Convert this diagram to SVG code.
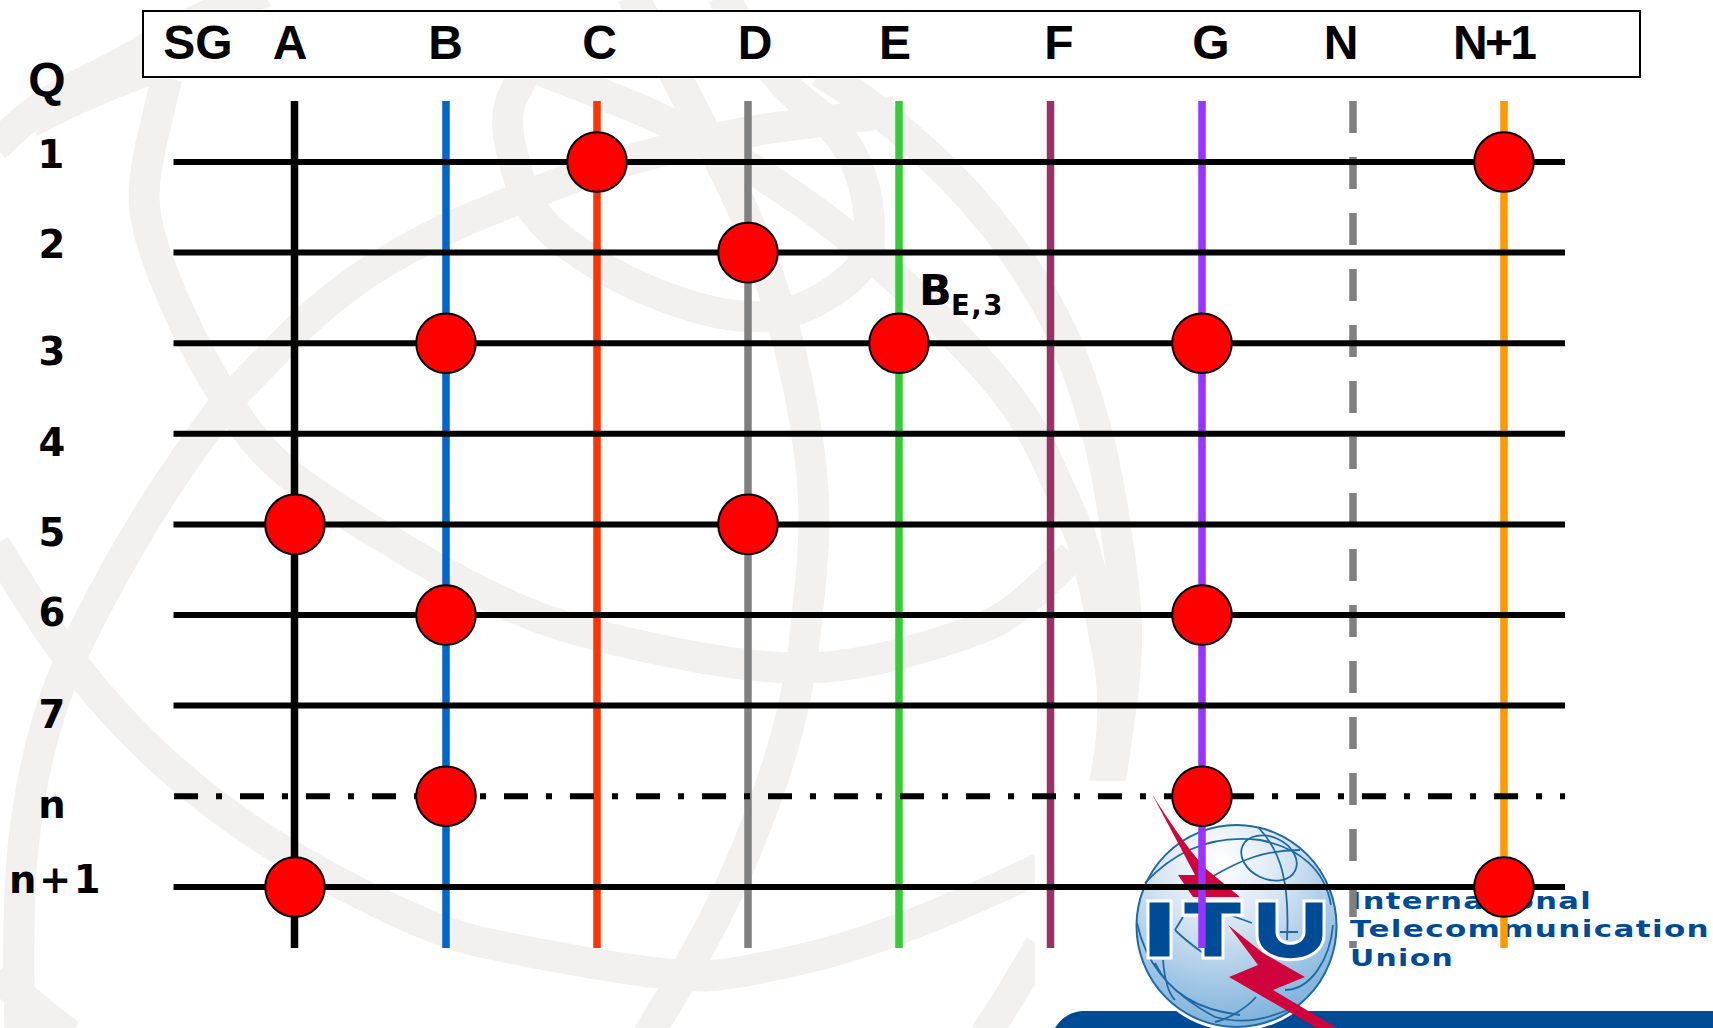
<svg xmlns="http://www.w3.org/2000/svg" width="1713" height="1028" viewBox="0 0 1713 1028">
<style>
.wm{fill:none;stroke:#f2f1ef;stroke-width:31}
.v{fill:none;stroke-width:7.5}
.h{fill:none;stroke:#000;stroke-width:6}
.dot{fill:#f00;stroke:#000;stroke-width:2}
.head{font-family:"Liberation Sans",Arial,sans-serif;font-weight:bold;font-size:48px;fill:#000;text-anchor:middle}
.row{font-family:"DejaVu Sans",Verdana,sans-serif;font-weight:bold;font-size:38.5px;fill:#000;text-anchor:middle}
.mer{fill:none;stroke:#1f6aa5;stroke-width:1.8}
.logo{font-family:"DejaVu Sans",Verdana,sans-serif;font-weight:bold;font-size:23px;letter-spacing:1px;fill:#004b96}
</style>
<defs>
<radialGradient id="globeFill" cx="0.42" cy="0.18" r="0.9">
<stop offset="0" stop-color="#ffffff"/><stop offset="0.35" stop-color="#d8e6f3"/><stop offset="1" stop-color="#6fa9d8"/>
</radialGradient>
</defs>
<rect width="1713" height="1028" fill="#fff"/>
<g id="watermark">
<path class="wm" d="M-5,147 L22,122 Q50,98 90,79 Q130,60 160,40 Q190,20 265,-8"/>
<path class="wm" d="M30,122 Q90,90 170,62"/>
<path class="wm" d="M167,78 L154.500,129 Q142,180 144.500,206.500 Q147,233 163.500,275 Q180,317 198.500,352 Q217,387 242,423.500 Q267,460 308.500,489 Q350,518 425,561.500 Q500,605 550,621.500 Q600,638 675,653 Q750,668 800,668 Q850,668 908.500,651.500 Q967,635 993.500,622.500 Q1020,610 1073,555"/>
<path class="wm" d="M895,112 Q833,120 783,126.500 Q733,133 666.500,150 Q600,167 566.500,180 Q533,193 483,213 Q433,233 383,263 Q333,293 286.500,340.500 Q240,388 228.500,400.500 Q217,413 180,466.500 Q143,520 106.500,587.500 Q70,655 55,698 Q40,741 31,791 Q22,841 20,891 Q18,941 19,988 L20,1035"/>
<path class="wm" d="M-5,545 L31,603 Q67,661 115,713.500 Q163,766 220,808.500 Q277,851 355,891 Q433,931 476.500,941 Q520,951 593.500,963.500 Q667,976 700,976 Q733,976 816.500,955.500 Q900,935 1040,868"/>
<path class="wm" d="M632,-5 L655,37.500 Q678,80 689,101.500 Q700,123 711.500,145 Q723,167 740,203.500 Q757,240 772,286.500 Q787,333 797.500,383 Q808,433 812,476.500 Q816,520 812,565.500 Q808,611 803.500,648 Q799,685 788.500,726.500 Q778,768 757.500,821.500 Q737,875 715,918 Q693,961 648,1035"/>
<path class="wm" d="M527,70 L515,91.500 Q503,113 510.500,146.500 Q518,180 528,201 Q538,222 568,244.500 Q598,267 630.500,282.500 Q663,298 698,308 Q733,318 764.500,316.500 Q796,315 829.500,293.500 Q863,272 867.500,252.500 Q872,233 867.500,203 Q863,173 848,148 Q833,123 803,101.500 Q773,80 722,-5"/>
<path class="wm" d="M540,70 L617,100 Q667,120 710,144 Q753,168 800,200.500 Q847,233 897,279 Q947,325 985,367.500 Q1023,410 1043,452.500 Q1063,495 1076.500,526.500 Q1090,558 1105,640 Q1115,680 1112,730 Q1110,760 1102,795"/>
<path class="wm" d="M820,72 L848.500,90 Q877,108 927.500,154 Q978,200 1017.500,257 Q1057,314 1077.500,370.500 Q1098,427 1108,482 Q1118,537 1124,590 Q1130,640 1122,700 Q1116,745 1108,795"/>
<path class="wm" d="M-5,975 Q5,985 17,991 Q30,1005 70,1035"/>
<path class="wm" d="M985,1035 Q1015,990 1040,945"/>
</g>
<g id="logo">
<rect x="1035" y="781" width="678" height="247" fill="#fff"/>
<path d="M1083,1011 H1713 V1028 H1055 C1060,1020 1068,1012 1083,1011 Z" fill="#004b96"/>
<ellipse cx="1236.500" cy="926" rx="103" ry="105" fill="#fff"/>
<ellipse cx="1236.500" cy="926" rx="100" ry="101" fill="url(#globeFill)" stroke="#1f6aa5" stroke-width="2"/>
<ellipse cx="1269" cy="858" rx="29" ry="21" transform="rotate(25 1269 858)" class="mer"/>
<path class="mer" d="M1145,883 C1180,845 1220,835 1260,840 C1300,848 1325,870 1331,905 M1210,878 C1240,860 1265,850 1300,850 M1258,827 C1280,850 1290,880 1287,940 M1175,930 L1183,917 M1175,930 C1190,945 1200,950 1210,958 M1230,915 L1252,923 M1280,932 H1298 M1137,923 C1145,960 1165,990 1215,1017 C1245,1025 1265,1020 1300,1005 M1155,963 C1170,995 1200,1010 1240,1015 M1163,960 C1165,985 1170,995 1175,1000 M1256,997 C1245,1010 1225,1020 1215,1022 M1285,990 C1310,990 1330,960 1333,925"/>
<path d="M1148,901 H1171 V958 H1148 Z M1183,901 H1242 V915 H1223 V958 H1203 V915 H1183 Z M1257,901 H1277 V932 C1277,947 1304,947 1304,932 V901 H1324 V935 C1324,968 1257,968 1257,935 Z" fill="#004b96" stroke="#fff" stroke-width="3"/>
<path d="M1152,794 L1195,875 L1178,875 L1193,897 L1240,897 L1205,868 C1185,845 1165,815 1152,794 Z" fill="#d0043c"/>
<path d="M1228,925 L1258,965 L1229,977 L1317,1028 L1337,1028 L1273,990 L1305,977 L1263,953 Z" fill="#d0043c"/>
<text class="logo" x="1350" y="909" textLength="242" lengthAdjust="spacingAndGlyphs">International</text>
<text class="logo" x="1350" y="937" textLength="360" lengthAdjust="spacingAndGlyphs">Telecommunication</text>
<text class="logo" x="1350" y="966" textLength="104" lengthAdjust="spacingAndGlyphs">Union</text>
</g>
<g id="header">
<rect x="143" y="11" width="1497" height="66" fill="#fff" stroke="#000" stroke-width="2"/>
<text class="head" x="198" y="59">SG</text>
<text class="head" x="290" y="59">A</text>
<text class="head" x="445.500" y="59">B</text>
<text class="head" x="599.500" y="59">C</text>
<text class="head" x="755" y="59">D</text>
<text class="head" x="895" y="59">E</text>
<text class="head" x="1059" y="59">F</text>
<text class="head" x="1211" y="59">G</text>
<text class="head" x="1341" y="59">N</text>
<text class="head" x="1495" y="59" textLength="84">N+1</text>
</g>
<g id="row-labels">
<text class="head" x="47" y="96">Q</text>
<text class="row" x="51" y="168">1</text>
<text class="row" x="52" y="258">2</text>
<text class="row" x="52" y="365">3</text>
<text class="row" x="52" y="456">4</text>
<text class="row" x="52" y="546">5</text>
<text class="row" x="52" y="626">6</text>
<text class="row" x="52" y="728">7</text>
<text class="row" x="52" y="818">n</text>
<text class="row" x="56" y="893" letter-spacing="2.500">n+1</text>
</g>
<g id="connectors">
<path class="v" stroke="#000" d="M294.500,101 V948"/>
<path class="v" stroke="#0066cc" d="M446,101 V948"/>
<path class="v" stroke="#ff3300" d="M597,101 V948"/>
<path class="v" stroke="#808080" d="M748,101 V948"/>
<path class="v" stroke="#33cc33" d="M899,101 V948"/>
<path class="v" stroke="#993366" d="M1050.500,101 V948"/>
<path class="v" stroke="#9933ff" d="M1202,101 V948"/>
<path class="v" stroke="#808080" stroke-dasharray="32 24" d="M1353,101 V948"/>
<path class="v" stroke="#ff9900" d="M1504,101 V948"/>
<path class="h" d="M173.500,162 H1565"/>
<path class="h" d="M173.500,252.600 H1565"/>
<path class="h" d="M173.500,343.200 H1565"/>
<path class="h" d="M173.500,433.800 H1565"/>
<path class="h" d="M173.500,524.400 H1565"/>
<path class="h" d="M173.500,615 H1565"/>
<path class="h" d="M173.500,705.600 H1565"/>
<path class="h" stroke-dasharray="24 18 6 18" d="M174,796.200 H1565"/>
<path class="h" d="M173.500,887 H1565"/>
</g>
<g id="node-C1"><circle class="dot" cx="597" cy="162" r="29.800"/></g>
<g id="node-N1-1"><circle class="dot" cx="1504" cy="162" r="29.800"/></g>
<g id="node-D2"><circle class="dot" cx="748" cy="252.600" r="29.800"/></g>
<g id="node-B3"><circle class="dot" cx="446" cy="343.200" r="29.800"/></g>
<g id="node-E3"><circle class="dot" cx="899" cy="343.200" r="29.800"/></g>
<g id="node-G3"><circle class="dot" cx="1202" cy="343.200" r="29.800"/></g>
<g id="node-A5"><circle class="dot" cx="295" cy="524.400" r="29.800"/></g>
<g id="node-D5"><circle class="dot" cx="748" cy="524.400" r="29.800"/></g>
<g id="node-B6"><circle class="dot" cx="446" cy="615" r="29.800"/></g>
<g id="node-G6"><circle class="dot" cx="1202" cy="615" r="29.800"/></g>
<g id="node-Bn"><circle class="dot" cx="446" cy="796.200" r="29.800"/></g>
<g id="node-Gn"><circle class="dot" cx="1202" cy="796.200" r="29.800"/></g>
<g id="node-An1"><circle class="dot" cx="295" cy="887" r="29.800"/></g>
<g id="node-N1n1"><circle class="dot" cx="1504" cy="887" r="29.800"/></g>
<g id="label-BE3">
<text x="919" y="305" font-family="DejaVu Sans, Verdana, sans-serif" font-weight="bold" font-size="43">B</text>
<text x="951" y="315" font-family="DejaVu Sans, Verdana, sans-serif" font-weight="bold" font-size="27.500" letter-spacing="1.500">E,3</text>
</g>
</svg>
